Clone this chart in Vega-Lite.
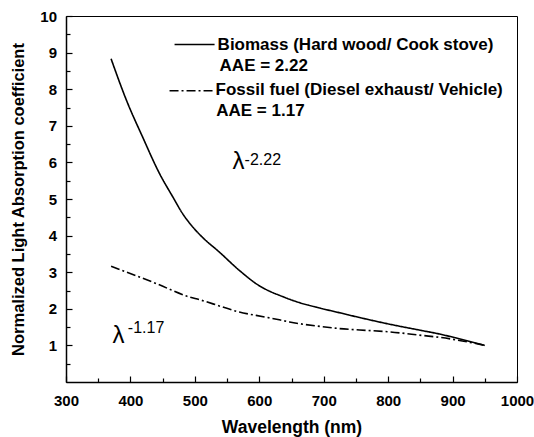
{
  "$schema": "https://vega.github.io/schema/vega-lite/v6.json",
  "width": 451,
  "height": 366,
  "autosize": {"type": "none"},
  "padding": {"left": 66, "top": 16, "right": 17, "bottom": 55},
  "background": "white",
  "config": {
    "view": {"stroke": "black", "strokeWidth": 1},
    "font": "Liberation Sans",
    "axis": {
      "grid": false,
      "domainColor": "black",
      "domainWidth": 1.5,
      "tickColor": "black",
      "tickWidth": 1.2,
      "labelFont": "Liberation Sans",
      "labelFontSize": 15,
      "labelFontWeight": "bold",
      "labelColor": "black",
      "labelFlush": false,
      "labelOverlap": false,
      "titleFont": "Liberation Sans",
      "titleFontWeight": "bold",
      "titleColor": "black"
    }
  },
  "datasets": {
    "curves": [
      {"series": "Biomass", "wavelength": 370, "value": 8.83},
      {"series": "Biomass", "wavelength": 394, "value": 7.69},
      {"series": "Biomass", "wavelength": 419, "value": 6.69},
      {"series": "Biomass", "wavelength": 445, "value": 5.7},
      {"series": "Biomass", "wavelength": 466, "value": 5.05},
      {"series": "Biomass", "wavelength": 481, "value": 4.6},
      {"series": "Biomass", "wavelength": 497, "value": 4.23},
      {"series": "Biomass", "wavelength": 512, "value": 3.95},
      {"series": "Biomass", "wavelength": 538, "value": 3.55},
      {"series": "Biomass", "wavelength": 569, "value": 3.05},
      {"series": "Biomass", "wavelength": 600, "value": 2.63},
      {"series": "Biomass", "wavelength": 616, "value": 2.48},
      {"series": "Biomass", "wavelength": 631, "value": 2.37},
      {"series": "Biomass", "wavelength": 647, "value": 2.26},
      {"series": "Biomass", "wavelength": 662, "value": 2.17},
      {"series": "Biomass", "wavelength": 694, "value": 2.02},
      {"series": "Biomass", "wavelength": 725, "value": 1.89},
      {"series": "Biomass", "wavelength": 756, "value": 1.76},
      {"series": "Biomass", "wavelength": 802, "value": 1.58},
      {"series": "Biomass", "wavelength": 854, "value": 1.4},
      {"series": "Biomass", "wavelength": 880, "value": 1.31},
      {"series": "Biomass", "wavelength": 906, "value": 1.2},
      {"series": "Biomass", "wavelength": 950, "value": 1.0},
      {"series": "Fossil", "wavelength": 370, "value": 3.16},
      {"series": "Fossil", "wavelength": 440, "value": 2.69},
      {"series": "Fossil", "wavelength": 492, "value": 2.32},
      {"series": "Fossil", "wavelength": 507, "value": 2.25},
      {"series": "Fossil", "wavelength": 543, "value": 2.05},
      {"series": "Fossil", "wavelength": 569, "value": 1.91},
      {"series": "Fossil", "wavelength": 595, "value": 1.82},
      {"series": "Fossil", "wavelength": 631, "value": 1.7},
      {"series": "Fossil", "wavelength": 647, "value": 1.64},
      {"series": "Fossil", "wavelength": 694, "value": 1.52},
      {"series": "Fossil", "wavelength": 724, "value": 1.46},
      {"series": "Fossil", "wavelength": 756, "value": 1.42},
      {"series": "Fossil", "wavelength": 802, "value": 1.37},
      {"series": "Fossil", "wavelength": 854, "value": 1.27},
      {"series": "Fossil", "wavelength": 880, "value": 1.22},
      {"series": "Fossil", "wavelength": 906, "value": 1.15},
      {"series": "Fossil", "wavelength": 950, "value": 1.0}
    ]
  },
  "resolve": {"axis": {"x": "independent", "y": "independent"}},
  "layer": [
    {
      "data": {"name": "curves"},
      "mark": {"type": "line", "color": "black", "strokeWidth": 1.6, "interpolate": "monotone"},
      "encoding": {
        "x": {
          "field": "wavelength", "type": "quantitative",
          "scale": {"domain": [300, 1000], "nice": false, "zero": false},
          "axis": {"orient": "bottom", "values": [300, 400, 500, 600, 700, 800, 900, 1000], "format": "d", "tickSize": -6, "labelPadding": 17, "title": "Wavelength (nm)", "titleFontSize": 17.5, "titleY": 45, "titleBaseline": "middle"}
        },
        "y": {
          "field": "value", "type": "quantitative",
          "scale": {"domain": [0, 10], "nice": false, "zero": false},
          "axis": {"orient": "left", "values": [1, 2, 3, 4, 5, 6, 7, 8, 9, 10], "format": "d", "tickSize": -6, "labelPadding": 15.5, "title": "Normalized Light Absorption coefficient", "titleFontSize": 16.5, "titleX": -48, "titleBaseline": "middle"}
        },
        "strokeDash": {
          "field": "series", "type": "nominal",
          "scale": {"domain": ["Biomass", "Fossil"], "range": [[1, 0], [9, 3, 2, 3]]},
          "legend": null
        },
        "detail": {"field": "series"}
      }
    },
    {
      "data": {"name": "curves"},
      "mark": {"type": "point", "opacity": 0},
      "encoding": {
        "x": {
          "field": "wavelength", "type": "quantitative",
          "axis": {"orient": "bottom", "values": [350, 450, 550, 650, 750, 850, 950], "tickSize": -4, "labels": false, "domain": false, "title": null}
        },
        "y": {
          "field": "value", "type": "quantitative",
          "axis": {"orient": "left", "values": [0.5, 1.5, 2.5, 3.5, 4.5, 5.5, 6.5, 7.5, 8.5, 9.5], "tickSize": -4, "labels": false, "domain": false, "title": null}
        }
      }
    },
    {
      "data": {"values": [{}]},
      "mark": {"type": "rule", "color": "black", "strokeWidth": 1.5},
      "encoding": {
        "x": {"datum": 468.5, "type": "quantitative", "axis": null},
        "x2": {"datum": 530.6},
        "y": {"datum": 9.22, "type": "quantitative", "axis": null}
      }
    },
    {
      "data": {"values": [{}]},
      "mark": {"type": "rule", "color": "black", "strokeWidth": 1.5, "strokeDash": [9, 3, 2, 3]},
      "encoding": {
        "x": {"datum": 460.7, "type": "quantitative", "axis": null},
        "x2": {"datum": 529.0},
        "y": {"datum": 7.96, "type": "quantitative", "axis": null}
      }
    },
    {
      "data": {"values": [{}]},
      "mark": {"type": "text", "text": "Biomass (Hard wood/ Cook stove)", "align": "left", "baseline": "middle", "fontSize": 17, "fontWeight": "bold", "color": "black"},
      "encoding": {
        "x": {"datum": 535.3, "type": "quantitative", "axis": null},
        "y": {"datum": 9.22, "type": "quantitative", "axis": null}
      }
    },
    {
      "data": {"values": [{}]},
      "mark": {"type": "text", "text": "AAE = 2.22", "align": "left", "baseline": "middle", "fontSize": 17, "fontWeight": "bold", "color": "black"},
      "encoding": {
        "x": {"datum": 538.4, "type": "quantitative", "axis": null},
        "y": {"datum": 8.63, "type": "quantitative", "axis": null}
      }
    },
    {
      "data": {"values": [{}]},
      "mark": {"type": "text", "text": "Fossil fuel (Diesel exhaust/ Vehicle)", "align": "left", "baseline": "middle", "fontSize": 17, "fontWeight": "bold", "color": "black"},
      "encoding": {
        "x": {"datum": 532.1, "type": "quantitative", "axis": null},
        "y": {"datum": 7.98, "type": "quantitative", "axis": null}
      }
    },
    {
      "data": {"values": [{}]},
      "mark": {"type": "text", "text": "AAE = 1.17", "align": "left", "baseline": "middle", "fontSize": 17, "fontWeight": "bold", "color": "black"},
      "encoding": {
        "x": {"datum": 533.2, "type": "quantitative", "axis": null},
        "y": {"datum": 7.4, "type": "quantitative", "axis": null}
      }
    },
    {
      "data": {"values": [{}]},
      "mark": {"type": "text", "text": "λ", "align": "left", "baseline": "alphabetic", "fontSize": 24, "color": "black"},
      "encoding": {
        "x": {"datum": 558.5, "type": "quantitative", "axis": null},
        "y": {"datum": 5.83, "type": "quantitative", "axis": null}
      }
    },
    {
      "data": {"values": [{}]},
      "mark": {"type": "text", "text": "-2.22", "align": "left", "baseline": "alphabetic", "fontSize": 16, "color": "black"},
      "encoding": {
        "x": {"datum": 577.2, "type": "quantitative", "axis": null},
        "y": {"datum": 5.93, "type": "quantitative", "axis": null}
      }
    },
    {
      "data": {"values": [{}]},
      "mark": {"type": "text", "text": "λ", "align": "left", "baseline": "alphabetic", "fontSize": 24, "color": "black"},
      "encoding": {
        "x": {"datum": 372.2, "type": "quantitative", "axis": null},
        "y": {"datum": 1.06, "type": "quantitative", "axis": null}
      }
    },
    {
      "data": {"values": [{}]},
      "mark": {"type": "text", "text": "-1.17", "align": "left", "baseline": "alphabetic", "fontSize": 16, "color": "black"},
      "encoding": {
        "x": {"datum": 396, "type": "quantitative", "axis": null},
        "y": {"datum": 1.33, "type": "quantitative", "axis": null}
      }
    }
  ]
}
